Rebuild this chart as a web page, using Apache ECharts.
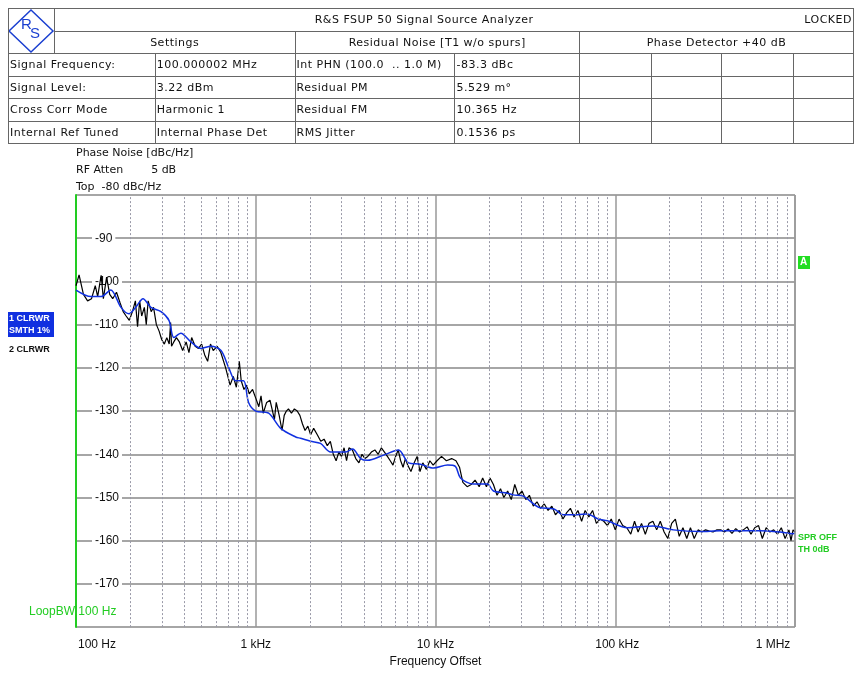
<!DOCTYPE html>
<html>
<head>
<meta charset="UTF-8">
<title>Phase Noise</title>
<script src="https://cdn.jsdelivr.net/npm/echarts@6/dist/echarts.min.js"></script>
<style>
body,html{ padding:0; margin:0; background:#fff; }
#chart{ position:absolute; left:0; top:0; width:854px; height:673px; }
#hdr{ position:absolute; left:8px; top:8px; border-collapse:collapse; font-family:"DejaVu Sans",Verdana,sans-serif; font-size:11px; letter-spacing:0.5px; color:#111; z-index:2; }
#hdr td{ border:1.5px solid #666; height:21.5px; padding:0 1px; white-space:nowrap; overflow:hidden; }
#hdr td.c{ text-align:center; }
</style>
</head>
<body>
<div id="chart"></div>
<table id="hdr">
<colgroup><col style="width:46px"><col style="width:101px"><col style="width:140px"><col style="width:160px"><col style="width:125px"><col style="width:72px"><col style="width:71px"><col style="width:72px"><col style="width:60px"></colgroup>
<tr><td rowspan="2"></td><td colspan="7" class="c" style="border-right:none">R&amp;S FSUP 50 Signal Source Analyzer</td><td style="border-left:none;text-align:right">LOCKED</td></tr>
<tr><td class="c" colspan="2">Settings</td><td class="c" colspan="2">Residual Noise [T1 w/o spurs]</td><td class="c" colspan="4">Phase Detector +40 dB</td></tr>
<tr><td colspan="2">Signal Frequency:</td><td>100.000002 MHz</td><td>Int PHN (100.0 &nbsp;.. 1.0 M)</td><td>-83.3 dBc</td><td></td><td></td><td></td><td></td></tr>
<tr><td colspan="2">Signal Level:</td><td>3.22 dBm</td><td>Residual PM</td><td>5.529 m&deg;</td><td></td><td></td><td></td><td></td></tr>
<tr><td colspan="2">Cross Corr Mode</td><td>Harmonic 1</td><td>Residual FM</td><td>10.365 Hz</td><td></td><td></td><td></td><td></td></tr>
<tr><td colspan="2">Internal Ref Tuned</td><td>Internal Phase Det</td><td>RMS Jitter</td><td>0.1536 ps</td><td></td><td></td><td></td><td></td></tr>
</table>
<script type="text/javascript">
// trace 2: raw (black)
var rawFreq = [100,104,110,116,122,128,132,138,142,148,154,160,168,176,183,190,198,206,214,220,226,232,240,246,252,262,270,280,290,300,310,320,330,336,340,350,362,376,392,410,425,440,460,480,500,520,540,560,580,610,640,680,720,750,780,810,830,860,890,920,960,1000,1040,1070,1100,1150,1200,1240,1270,1300,1350,1400,1440,1480,1520,1580,1640,1700,1760,1820,1880,1950,2020,2100,2200,2300,2400,2500,2600,2700,2800,2900,3000,3100,3200,3300,3450,3600,3750,3900,4050,4200,4400,4600,4800,5000,5200,5400,5600,5800,6000,6200,6400,6600,6800,7000,7300,7600,7900,8200,8500,8900,9300,9700,10200,10800,11500,12300,13000,13600,14200,15000,15800,16600,17500,18300,19200,20100,21000,22000,23000,24000,25200,26400,27600,28900,30300,31800,33300,35000,36700,38400,40300,42300,44400,46500,48800,51200,53700,56300,59000,62000,65000,68000,71300,74800,78500,82300,86300,90500,95000,100000,105000,110000,116000,122000,128000,134000,140000,147000,154000,162000,170000,178000,187000,196000,206000,216000,227000,238000,250000,262000,275000,289000,303000,318000,334000,350000,368000,386000,405000,425000,446000,468000,492000,516000,542000,569000,597000,627000,658000,691000,725000,761000,799000,839000,881000,925000,950000,975000,1000000];
var rawDb = [-101,-98.5,-103,-104.5,-104,-101,-103.5,-98.6,-104,-99,-103,-104,-102.5,-105,-107,-108,-109,-107,-104.5,-110.5,-104.5,-108,-106,-110,-104.5,-107,-106,-110,-111.5,-113.5,-114.5,-113,-114.5,-109.5,-115,-114,-113,-114,-116,-114,-116.5,-113,-115,-115.5,-114.5,-117,-118.5,-114.5,-116,-115,-116.5,-120,-124,-122,-124.5,-118.5,-123,-125,-124,-126,-125,-127,-129,-126.5,-130.5,-128,-127.5,-130,-132,-128,-131,-134.5,-131,-130,-129.5,-130.5,-129.5,-130,-131,-133,-134.5,-133.5,-135.5,-134,-135.5,-137,-136.5,-138,-137,-140,-141.5,-139.5,-140.5,-138.5,-141.5,-138.5,-139,-141,-142,-140,-141,-140.5,-139.5,-139,-140,-138.5,-139.5,-140.5,-141.5,-142.5,-140.5,-139,-141.5,-143,-141,-142.5,-144,-142,-140.5,-144,-142,-143.5,-141.5,-142.5,-141.5,-140.5,-141.5,-141,-141.5,-143,-146.5,-147.5,-147,-146,-147.5,-145.5,-147.5,-145.5,-147,-149.5,-148,-150,-148.5,-150.5,-147,-149.5,-148.5,-150.5,-149.5,-152,-151,-152.5,-151.5,-153,-152,-154,-153,-155,-153.5,-152.5,-154.5,-153,-155.5,-153,-154.5,-153,-156,-155,-155.5,-156.5,-155,-157.5,-155,-156.5,-157,-158.5,-155.5,-158,-156,-158.5,-156,-155.5,-157.5,-155.5,-158,-159.5,-156,-155,-159,-157,-159.5,-157,-159.5,-157.5,-158,-157.5,-157.8,-158,-157.5,-157.5,-158,-157.3,-158.3,-157.2,-158,-157.5,-156.8,-158.5,-157,-156.5,-159.5,-157,-158,-157.5,-158.5,-157,-159.5,-157.5,-160,-157.5,-158];
// trace 1: smoothed (blue)
var smFreq = [100,121,138,156,178,197,215,236,261,297,329,350,383,436,496,564,641,708,774,855,912,1000,1180,1376,1668,1778,2018,2292,2610,3162,3459,3831,4190,5140,6230,7080,8250,9750,11660,12900,13770,16260,19450,21000,25100,27100,30800,38300,45300,51400,61500,69900,80500,90300,116600,162600,210000,296600,383100,541000,639000,825400,975000,1000000];
var smDb = [-102,-103.5,-103.5,-102,-106,-107.5,-106,-104,-106,-107,-109,-113,-112,-114,-115.5,-115,-116,-120,-123,-123,-128,-130,-130.5,-134,-136,-136.3,-137,-137.5,-139.5,-139.5,-138.8,-141,-141.4,-140.2,-139,-142,-142.3,-143.2,-142.5,-142.8,-145.5,-146.9,-146.9,-148.5,-149,-149.4,-149.7,-152.4,-152.6,-154,-154,-153.8,-155,-155.4,-157,-156.6,-157.5,-157.9,-157.7,-157.7,-157.7,-158,-158.4,-158.3];
var xTicks = ['100 Hz','1 kHz','10 kHz','100 kHz','1 MHz'];
var minorGrid = [];
[100,1000,10000,100000].forEach(function(d){ for(var k=2;k<=9;k++) minorGrid.push(d*k); });

function pairs(f,v){ return f.map(function(x,i){ return [x,v[i]]; }); }

var myChart = echarts.init(document.getElementById('chart'));
var txt = { fontFamily:'DejaVu Sans', fontSize:11, fill:'#111' };
var option = {
    animation:false,
    grid:{ left:76, top:195, right:59, bottom:42 },
    xAxis:{
        type:'log', logBase:10, min:100, max:1000000,
        name:'Frequency Offset', nameLocation:'middle', nameGap:26,
        nameTextStyle:{ fontFamily:'Liberation Sans', fontSize:12, color:'#111' },
        axisLine:{ show:false }, axisTick:{ show:false },
        splitLine:{ show:true, lineStyle:{ color:'#999', width:1.5 } },
        axisLabel:{ fontFamily:'Liberation Sans', fontSize:12, color:'#111', margin:12,
            formatter:function(v){
                var i = Math.round(Math.log10(v))-2;
                if(i===0) return '{l|'+xTicks[i]+'}';
                if(i===3) return '{m|'+xTicks[i]+'}';
                if(i===4) return '{r|'+xTicks[i]+'}';
                return xTicks[i];
            },
            rich:{ l:{ padding:[0,0,0,42], fontSize:12, fontFamily:'Liberation Sans' }, m:{ padding:[0,0,0,4], fontSize:12, fontFamily:'Liberation Sans' }, r:{ padding:[0,44,0,0], fontSize:12, fontFamily:'Liberation Sans' } }
        }
    },
    yAxis:{
        type:'value', min:-180, max:-80, interval:10,
        axisLine:{ show:true, lineStyle:{ color:'#22cc22', width:2 } },
        axisTick:{ show:false },
        splitLine:{ lineStyle:{ color:'#888', width:1.5 } },
        axisLabel:{ inside:true, margin:16, color:'#111', fontFamily:'Liberation Sans', fontSize:12,
            backgroundColor:'#fff', padding:[0,3], showMinLabel:false, showMaxLabel:false }
    },
    series:[
        { type:'line', data:[], silent:true,
          markLine:{ symbol:'none', silent:true, label:{ show:false },
            lineStyle:{ color:'#9a9aa8', type:[2,2], width:1 },
            data: minorGrid.map(function(f){ return { xAxis:f }; }) } },
        { name:'2', type:'line', data:pairs(rawFreq,rawDb), showSymbol:false,
          lineStyle:{ color:'#000', width:1.2 }, z:3 },
        { name:'1', type:'line', data:pairs(smFreq,smDb), showSymbol:false, smooth:0.3,
          lineStyle:{ color:'#1030e0', width:1.5 }, z:4,
          markLine:{ symbol:'none', silent:true, label:{ show:false },
            lineStyle:{ color:'#999', type:'solid', width:1.5 },
            data:[{ xAxis:1000000 }] } }
    ],
    graphic:[
        { type:'polygon', shape:{ points:[[31,10],[53,31],[31,52],[9,31]] }, style:{ fill:'#fff', stroke:'#1a3fd0', lineWidth:1.5 } },
        { type:'text', left:21, top:17, style:{ text:'R', fontFamily:'Liberation Sans', fontSize:15, fill:'#1a3fd0' } },
        { type:'text', left:30, top:26, style:{ text:'S', fontFamily:'Liberation Sans', fontSize:15, fill:'#1a3fd0' } },
        { type:'text', left:76, top:148, style:Object.assign({ text:'Phase Noise [dBc/Hz]' }, txt) },
        { type:'text', left:76, top:165, style:Object.assign({ text:'RF Atten        5 dB' }, txt) },
        { type:'text', left:76, top:182, style:Object.assign({ text:'Top  -80 dBc/Hz' }, txt) },
        { type:'rect', shape:{ x:8, y:312, width:46, height:25 }, style:{ fill:'#1030e0' } },
        { type:'text', left:9, top:313, style:{ text:'1 CLRWR\nSMTH 1%', fontFamily:'Liberation Sans', fontWeight:'bold', fontSize:9, lineHeight:12, fill:'#fff' } },
        { type:'text', left:9, top:345, style:{ text:'2 CLRWR', fontFamily:'Liberation Sans', fontWeight:'bold', fontSize:9, fill:'#111' } },
        { type:'rect', shape:{ x:798, y:256, width:12, height:13 }, style:{ fill:'#22dd22' } },
        { type:'text', left:800, top:257, style:{ text:'A', fontFamily:'Liberation Sans', fontWeight:'bold', fontSize:10, fill:'#fff' } },
        { type:'text', left:798, top:532, style:{ text:'SPR OFF\nTH 0dB', fontFamily:'Liberation Sans', fontWeight:'bold', fontSize:9, lineHeight:12, fill:'#22cc22' } },
        { type:'text', left:29, top:606, style:{ text:'LoopBW 100 Hz', fontFamily:'Liberation Sans', fontSize:12, fill:'#22cc22' } }
    ]
};
myChart.setOption(option);
</script>
</body>
</html>
